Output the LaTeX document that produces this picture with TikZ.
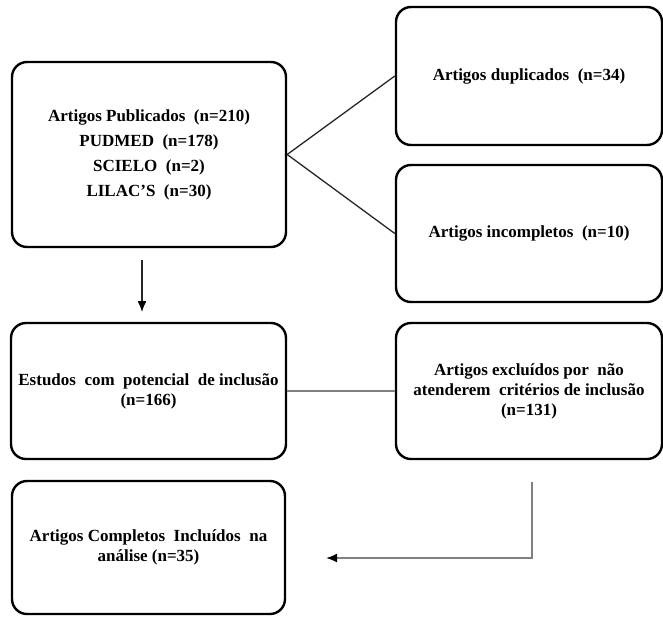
\documentclass[tikz,border=0pt]{standalone}
\usepackage{fontspec}
\setmainfont{Liberation Serif}
\usetikzlibrary{arrows.meta}
\begin{document}
\begin{tikzpicture}[x=1pt,y=-1pt,
  box/.style={draw=black, line width=2.4pt, rounded corners=15pt, align=center,
    font=\bfseries\fontsize{17}{20}\selectfont, inner sep=0pt},
  link/.style={line width=1.3pt, draw=black!85},
  glink/.style={line width=1.6pt, draw=black!50},
  arr/.style={-{Latex[length=11pt,width=9pt,color=black]}}]
\useasboundingbox (0,0) rectangle (663,616);
\node[box, minimum width=274pt, minimum height=185pt,
  font=\bfseries\fontsize{17}{25}\selectfont] (b1) at (149,154.5)
  {Artigos Publicados\ \ (n=210)\\PUDMED\ \ (n=178)\\SCIELO\ \ (n=2)\\LILAC’S\ \ (n=30)};
\node[box, minimum width=266pt, minimum height=138pt] (b2) at (529,76)
  {Artigos duplicados\ \ (n=34)};
\node[box, minimum width=266pt, minimum height=137pt] (b3) at (529,233.5)
  {Artigos incompletos\ \ (n=10)};
\node[box, minimum width=275pt, minimum height=136pt] (b4) at (148.5,391)
  {Estudos\ \ com\ \ potencial\ \ de inclusão\\(n=166)};
\node[box, minimum width=266pt, minimum height=136pt] (b5) at (529,391)
  {Artigos excluídos por\ \ não\\atenderem\ \ critérios de inclusão\\(n=131)};
\node[box, minimum width=273pt, minimum height=133pt] (b6) at (148.5,547.5)
  {Artigos Completos\ \ Incluídos\ \ na\\análise (n=35)};
\draw[link] (b1.east) -- (b2.west);
\draw[link] (b1.east) -- (b3.west);
\coordinate (d1) at (142,260);
\coordinate (d2) at (142,312);
\draw[link, arr] (d1) -- (d2);
\draw[glink] (b4.east) -- (b5.west);
\coordinate (e1) at (532,482);
\coordinate (e2) at (532,558);
\coordinate (e3) at (326,558);
\draw[glink, line width=1.8pt, arr] (e1) -- (e2) -- (e3);
\end{tikzpicture}
\end{document}
